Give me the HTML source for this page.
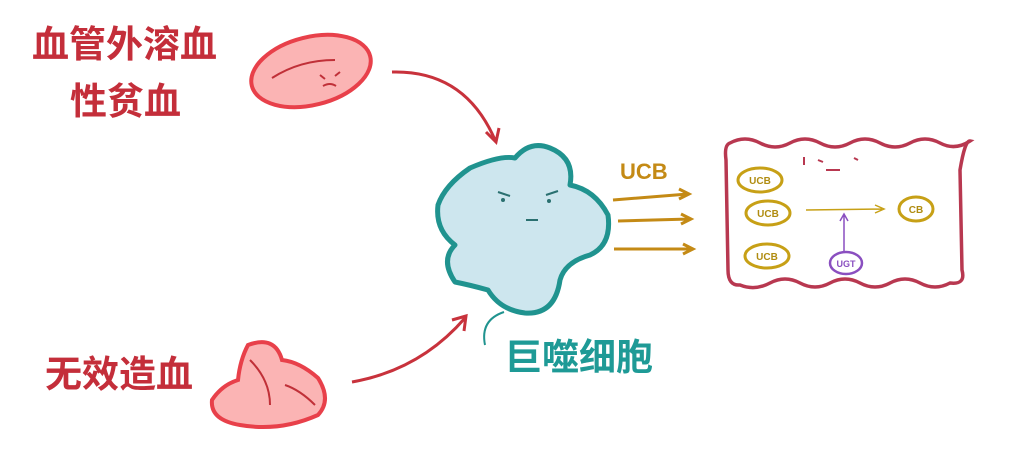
<!DOCTYPE html>
<html><head><meta charset="utf-8"><style>
body{margin:0;width:1024px;height:473px;background:#fff;overflow:hidden;position:relative;font-family:"Liberation Sans","Noto Sans CJK SC",sans-serif}
.t{position:absolute;font-weight:bold;font-size:37px;line-height:1;white-space:nowrap}
.r{color:#c42e3a}
</style></head><body>
<svg width="1024" height="473" style="position:absolute;left:0;top:0">
<!-- RBC 1 -->
<ellipse cx="311" cy="71" rx="61" ry="34" transform="rotate(-14 311 71)" fill="#fbb4b4" stroke="#e8404a" stroke-width="4"/>
<path d="M272 78 Q300 60 335 60" fill="none" stroke="#c03038" stroke-width="2"/>
<path d="M320 75 l5 4 M340 72 l-5 4 M323 86 q7 -4 13 0" fill="none" stroke="#c03038" stroke-width="2"/>
<!-- RBC 2 -->
<path d="M248 345 Q275 335 282 360 Q300 362 318 378 Q332 400 318 415 Q280 432 240 425 Q210 420 212 400 Q222 385 238 380 Q240 360 248 345Z" fill="#fbb4b4" stroke="#e8404a" stroke-width="4"/>
<path d="M250 360 Q270 380 270 405 M285 385 q15 5 30 20" fill="none" stroke="#c03038" stroke-width="2"/>
<!-- arrows red -->
<path d="M392 72 Q465 70 495 140" fill="none" stroke="#c8323c" stroke-width="3"/>
<path d="M486 132 L496 142 L499 128" fill="none" stroke="#c8323c" stroke-width="3"/>
<path d="M352 382 Q420 370 465 318" fill="none" stroke="#c8323c" stroke-width="3"/>
<path d="M452 320 L466 316 L464 331" fill="none" stroke="#c8323c" stroke-width="3"/>
<!-- macrophage -->
<path d="M470 168 Q500 155 515 158 Q530 140 550 148 Q575 158 570 185 Q595 190 608 215 Q612 245 590 255 Q565 262 560 280 Q555 315 525 313 Q500 310 488 290 Q470 285 455 282 Q440 260 455 245 Q435 230 438 205 Q445 185 470 168Z" fill="#cde6ee" stroke="#20938f" stroke-width="5" stroke-linejoin="round"/>
<path d="M504 312 Q480 320 485 345" fill="none" stroke="#20938f" stroke-width="2"/>
<path d="M498 192 l12 4 M558 191 l-12 4 M526 220 h12" stroke="#2a7070" stroke-width="2"/>
<circle cx="503" cy="200" r="2" fill="#2a7070"/><circle cx="549" cy="201" r="2" fill="#2a7070"/>
<!-- gold arrows -->
<g stroke="#c48a15" stroke-width="3" fill="none">
<path d="M613 200 L688 194 M679 189 L689 194 L679 199"/>
<path d="M618 221 L690 219 M681 214 L691 219 L681 224"/>
<path d="M614 249 L692 249 M683 244 L693 249 L683 254"/>
</g>
<!-- liver cell box -->
<path d="M730 143 q15 -8 30 0 t30 0 t30 0 t30 0 t30 0 t30 0 t30 0 t30 -2 Q965 140 960 170 L962 270 Q966 285 950 283 q-15 8 -30 0 t-30 0 t-30 0 t-30 0 t-30 0 t-30 0 t-30 2 Q728 286 728 270 L726 160 Q724 145 730 143Z" fill="none" stroke="#b83850" stroke-width="3.5"/>
<g fill="none" stroke="#c7a016" stroke-width="3">
<ellipse cx="760" cy="180" rx="22" ry="12"/>
<ellipse cx="768" cy="213" rx="22" ry="12"/>
<ellipse cx="767" cy="256" rx="22" ry="12"/>
<ellipse cx="916" cy="209" rx="17" ry="12"/>
</g>
<path d="M806 210 L882 209 M875 205 L884 209 L875 213" stroke="#c7a016" stroke-width="1.5" fill="none"/>
<ellipse cx="846" cy="263" rx="16" ry="11" fill="none" stroke="#8a4fc0" stroke-width="2.5"/>
<path d="M844 251 V215 M840 221 L844 214 L848 221" stroke="#8a4fc0" stroke-width="1.5" fill="none"/>
<path d="M804 157 v8 M818 160 l5 2 M826 170 h14 M854 158 l4 2" stroke="#b83850" stroke-width="2"/>
<g font-family="Liberation Sans" font-weight="bold" font-size="10" fill="#b08c10" text-anchor="middle">
<text x="760" y="184">UCB</text><text x="768" y="217">UCB</text><text x="767" y="260">UCB</text><text x="916" y="213">CB</text>
</g>
<text x="846" y="267" font-family="Liberation Sans" font-weight="bold" font-size="9" fill="#8a4fc0" text-anchor="middle">UGT</text>
<text x="620" y="179" font-family="Liberation Sans" font-weight="bold" font-size="22" fill="#c48a15">UCB</text>
</svg>
<div class="t r" style="left:32px;top:26px">血管外溶血</div>
<div class="t r" style="left:70px;top:83px">性贫血</div>
<div class="t r" style="left:45px;top:356px">无效造血</div>
<div class="t" style="left:505px;top:339px;color:#1e9a96">巨噬细胞</div>
</body></html>
